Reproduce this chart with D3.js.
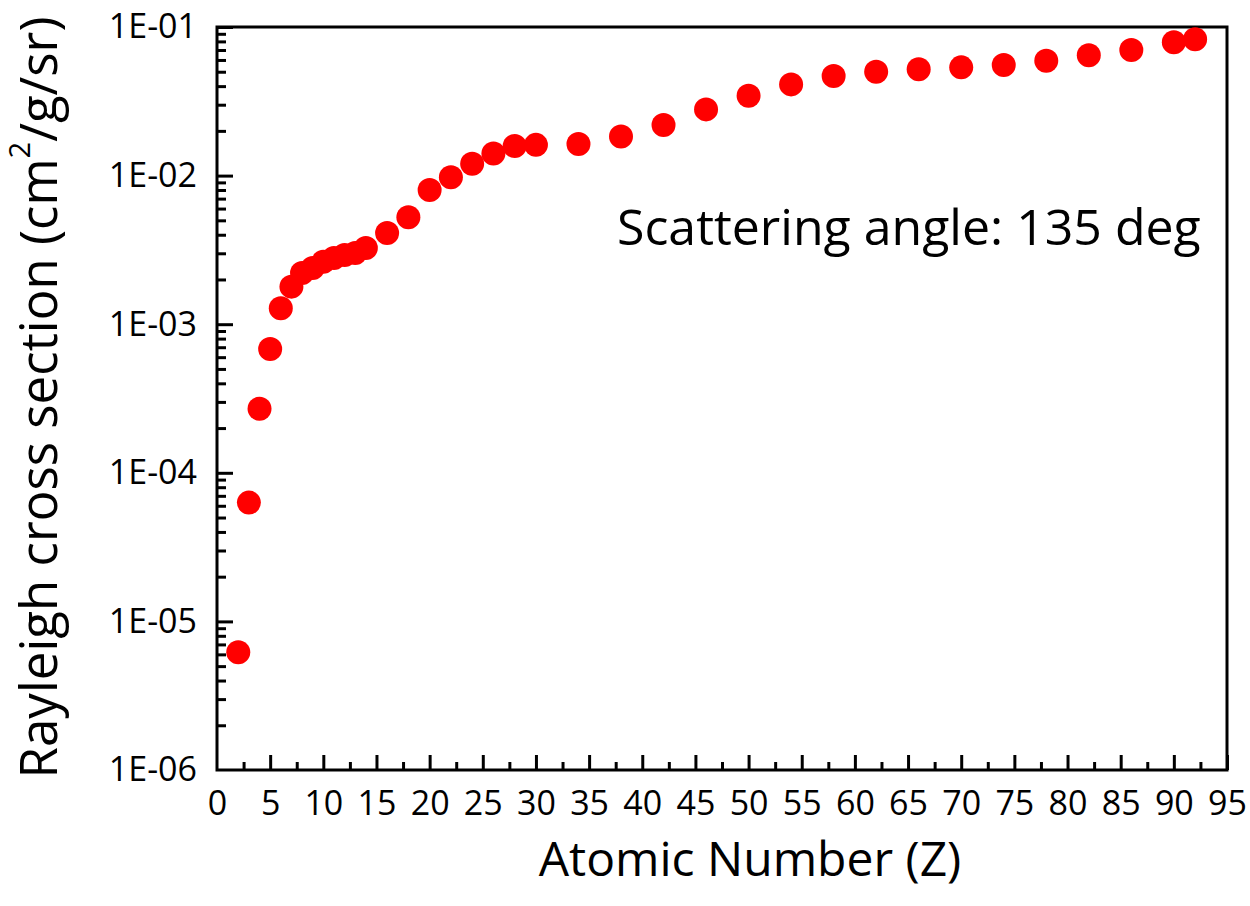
<!DOCTYPE html>
<meta charset="utf-8">
<style>
body { margin: 0; background: #fff; }
text { font-family: "Open Sans", sans-serif; fill: #000; }
.axis path { display: none; }
.axis line { stroke: #000; stroke-width: 3; }
.frame { fill: none; stroke: #000; stroke-width: 3; }
</style>
<svg width="1250" height="906"></svg>
<script src="https://d3js.org/d3.v7.min.js"></script>
<script>

// atomic number and cross section (cm2/g/sr) at 135 deg
var atomicNumber = [2, 3, 4, 5, 6, 7, 8, 9, 10, 11, 12, 13, 14, 16, 18, 20, 22, 24, 26, 28, 30,
                    34, 38, 42, 46, 50, 54, 58, 62, 66, 70, 74, 78, 82, 86, 90, 92];
var crossSection = [6.2e-6, 6.3e-5, 2.7e-4, 6.8e-4, 1.28e-3, 1.79e-3, 2.21e-3, 2.39e-3, 2.63e-3,
                    2.79e-3, 2.92e-3, 3.01e-3, 3.26e-3, 4.11e-3, 5.24e-3, 8.0e-3, 9.75e-3, 1.20e-2,
                    1.41e-2, 1.58e-2, 1.61e-2, 1.63e-2, 1.83e-2, 2.19e-2, 2.79e-2, 3.45e-2, 4.11e-2,
                    4.68e-2, 5.00e-2, 5.19e-2, 5.35e-2, 5.55e-2, 5.93e-2, 6.45e-2, 7.0e-2, 7.89e-2, 8.26e-2];

var xTicks = d3.range(0, 96, 5);
var xMinorTicks = d3.range(2.5, 95, 5);
var yTicks = [1e-6, 1e-5, 1e-4, 1e-3, 1e-2, 1e-1];
var yTickLabels = ["1E-06", "1E-05", "1E-04", "1E-03", "1E-02", "1E-01"];

var svg = d3.select("svg"),
    margin = {top: 27, right: 23, bottom: 136, left: 217},
    width = +svg.attr("width") - margin.left - margin.right,
    height = +svg.attr("height") - margin.top - margin.bottom;

var x = d3.scaleLinear().domain([0, 95]).range([0, width]);
var y = d3.scaleLog().domain([1e-6, 1e-1]).range([height, 0]);

var g = svg.append("g").attr("transform", "translate(" + margin.left + "," + margin.top + ")");

// minor log ticks 2..9 in each decade
var yMinorTicks = [];
yTicks.slice(0, -1).forEach(function(d) {
  for (var k = 2; k < 10; k++) yMinorTicks.push(d * k);
});

g.append("g")
    .attr("class", "axis")
    .attr("transform", "translate(0," + height + ")")
    .call(d3.axisBottom(x).tickValues(xMinorTicks).tickSize(-8).tickFormat(""));

g.append("g")
    .attr("class", "axis")
    .attr("transform", "translate(0," + height + ")")
    .call(d3.axisBottom(x).tickValues(xTicks).tickSize(-15).tickPadding(21))
  .selectAll("text")
    .attr("font-size", 34);

g.append("g")
    .attr("class", "axis")
    .call(d3.axisLeft(y).tickValues(yMinorTicks).tickSize(-9).tickFormat(""));

g.append("g")
    .attr("class", "axis")
    .call(d3.axisLeft(y).tickValues(yTicks).tickSize(-16).tickPadding(20)
      .tickFormat(function(d, i) { return yTickLabels[i]; }))
  .selectAll("text")
    .attr("font-size", 34);

g.selectAll(".axis .tick line").filter(function(d) { return d === 0 || d === 1e-6; }).remove();

g.append("rect")
    .attr("class", "frame")
    .attr("width", width)
    .attr("height", height);

g.selectAll("circle")
  .data(atomicNumber)
  .enter().append("circle")
    .attr("cx", function(d) { return x(d); })
    .attr("cy", function(d, i) { return y(crossSection[i]); })
    .attr("r", 12)
    .attr("fill", "#ff0000");

g.append("text")
    .attr("x", 400)
    .attr("y", 218)
    .attr("font-size", 50)
    .text("Scattering angle: 135 deg");

svg.append("text")
    .attr("x", 750)
    .attr("y", 876)
    .attr("text-anchor", "middle")
    .attr("font-size", 48)
    .text("Atomic Number (Z)");

var yTitle = svg.append("text")
    .attr("transform", "translate(57," + (margin.top + height / 2 - 1) + ") rotate(-90)")
    .attr("text-anchor", "middle")
    .attr("font-size", 51);
yTitle.append("tspan").text("Rayleigh cross section (cm");
yTitle.append("tspan").attr("font-size", 29).attr("dy", -27).text("2");
yTitle.append("tspan").attr("dy", 27).text("/g/sr)");

</script>
